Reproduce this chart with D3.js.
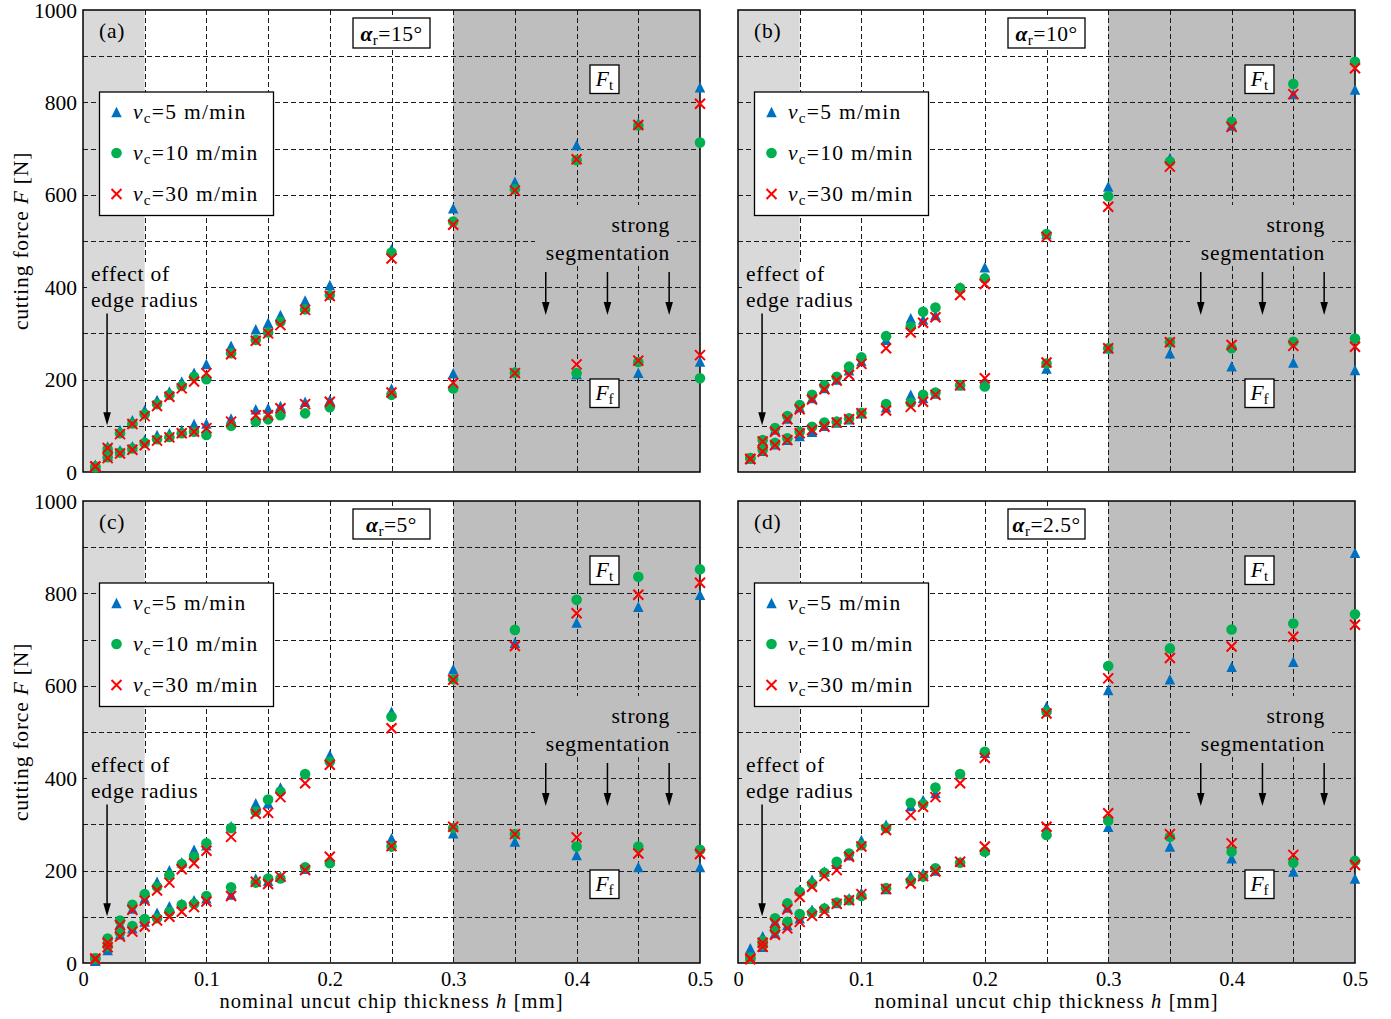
<!DOCTYPE html>
<html><head><meta charset="utf-8">
<script src="https://cdn.jsdelivr.net/npm/d3@7"></script>
<style>body{margin:0;background:#fff}</style>
</head><body>
<svg id="chart" width="1391" height="1019" xmlns="http://www.w3.org/2000/svg"></svg>
<script>
// ---------------- data ----------------
const hValues = [0.01,0.02,0.03,0.04,0.05,0.06,0.07,0.08,0.09,0.10,0.12,0.14,0.15,0.16,0.18,0.20,0.25,0.30,0.35,0.40,0.45,0.50];
const panelLabels = ['(a)','(b)','(c)','(d)'];
const rakeAngles = ['15°','10°','5°','2.5°'];
const speedLabels = ['5','10','30'];
const xTicks = [0,0.1,0.2,0.3,0.4,0.5];
const yTicks = [0,200,400,600,800,1000];
const xGrid = [0.05,0.10,0.15,0.20,0.25,0.30,0.35,0.40,0.45];
const yGrid = [100,200,300,400,500,600,700,800,900];
const segArrowH = [0.375,0.425,0.475];

// panel (a) alpha_r = 15°
const ftA5  = [15,55,91,112,134,156,174,196,215,234,273,309,323,340,371,405,482,571,628,708,755,833];
const ftA10 = [12,50,84,105,125,147,167,186,206,201,257,286,302,325,352,383,475,542,612,675,750,713];
const ftA30 = [12,52,82,104,121,143,163,181,196,214,255,284,300,318,351,381,462,535,609,677,751,797];
const ffA5  = [15,35,47,56,69,80,84,91,104,105,116,136,138,143,152,156,181,214,217,212,215,239];
const ffA10 = [10,32,42,51,63,71,76,84,87,80,100,109,114,123,127,140,167,181,215,214,238,203];
const ffA30 = [12,30,40,48,58,68,75,84,87,95,109,123,123,138,147,152,172,193,214,233,241,253];
// panel (b) alpha_r = 10°
const ftB5  = [30,68,92,116,140,160,182,200,220,240,286,333,330,340,400,443,515,618,679,750,818,828];
const ftB10 = [30,69,95,121,145,167,188,206,228,248,294,315,347,356,398,419,515,597,672,758,840,888];
const ftB30 = [28,66,87,114,136,157,179,198,210,234,268,302,323,335,383,407,509,574,661,747,818,874];
const ffB5  = [30,46,60,70,78,87,100,107,114,127,140,167,160,170,188,195,224,268,257,229,237,221];
const ffB10 = [30,48,63,73,87,98,107,109,116,128,147,150,167,172,188,185,235,268,281,268,282,289];
const ffB30 = [28,44,58,69,84,91,98,107,114,127,133,141,152,167,188,203,237,268,281,275,273,271];
// panel (c) alpha_r = 5°
const ftC5  = [5,46,85,118,140,176,201,218,245,255,296,346,346,380,409,450,544,636,693,737,771,797];
const ftC10 = [10,53,92,126,149,165,190,214,230,259,292,328,354,371,409,436,533,614,721,786,836,852];
const ftC30 = [10,44,82,115,135,157,174,203,216,243,273,323,325,359,389,429,508,613,686,757,797,823];
const ffC5  = [5,28,62,75,90,109,123,128,136,140,148,183,178,187,204,222,270,281,263,234,208,208];
const ffC10 = [10,36,66,80,95,97,111,126,128,145,164,174,183,183,207,216,252,292,279,252,252,245];
const ffC30 = [8,34,57,68,79,92,100,111,121,133,145,176,171,187,201,230,253,295,279,272,237,236];
// panel (d) alpha_r = 2.5°
const ftD5  = [32,58,90,120,158,180,198,215,233,266,299,340,353,368,409,455,555,591,614,641,652,888];
const ftD10 = [12,48,97,129,154,172,195,219,237,255,292,347,344,380,409,457,544,643,681,722,735,755];
const ftD30 = [10,44,86,116,143,165,188,201,230,252,288,320,338,359,389,444,540,616,660,685,706,732];
const ffD5  = [15,35,65,82,97,115,120,130,140,152,160,188,194,200,219,245,285,295,252,227,198,183];
const ffD10 = [10,39,71,89,106,109,118,131,136,145,162,178,187,205,217,241,277,308,273,241,217,221];
const ffD30 = [8,35,61,75,89,102,111,128,136,149,160,172,188,198,219,252,295,324,279,259,234,212];

const panelData = [
  {ft:[ftA5,ftA10,ftA30], ff:[ffA5,ffA10,ffA30]},
  {ft:[ftB5,ftB10,ftB30], ff:[ffB5,ffB10,ffB30]},
  {ft:[ftC5,ftC10,ftC30], ff:[ffC5,ffC10,ffC30]},
  {ft:[ftD5,ftD10,ftD30], ff:[ffD5,ffD10,ffD30]}
];

// ---------------- drawing ----------------
const FONT = '"Liberation Serif","Times New Roman",serif';
const FS = 21.5, LS = 0.8, TFS = 20.5;
const COLORS = ['#0070c0','#00b050','#ff0000'];
const W = 617, H = 462;
const layout = [
  {x:83, y:10, left:true, bottom:false},
  {x:738, y:10, left:false, bottom:false},
  {x:83, y:501, left:true, bottom:true},
  {x:738, y:501, left:false, bottom:true}
];
const svg = d3.select('#chart').attr('font-family', FONT);
const defs = svg.append('defs');

function triPath(s){ return `M0,${-s/2}L${s/2},${s/2}L${-s/2},${s/2}Z`; }
function crossPath(s){ return `M${-s},${-s}L${s},${s}M${-s},${s}L${s},${-s}`; }
function drawMarker(sel, k, cx, cy){
  if (k===0) sel.append('path').attr('d',triPath(10.5)).attr('transform',`translate(${cx},${cy})`).attr('fill',COLORS[0]);
  else if (k===1) sel.append('circle').attr('cx',cx).attr('cy',cy).attr('r',5.3).attr('fill',COLORS[1]);
  else sel.append('path').attr('d',crossPath(5)).attr('transform',`translate(${cx},${cy})`).attr('stroke',COLORS[2]).attr('stroke-width',2).attr('fill','none');
}
function subText(sel, main, sub, rest, opts){
  const t = sel.append('text').attr('x',opts.x).attr('y',opts.y).attr('font-size',FS)
    .attr('text-anchor',opts.anchor||'start').attr('letter-spacing',opts.ls!=null?opts.ls:LS);
  const m = t.append('tspan').text(main).attr('font-style','italic');
  if (opts.bold) m.attr('font-weight','bold');
  t.append('tspan').attr('font-size', FS*0.7).attr('dy',4).text(sub);
  if (rest) t.append('tspan').attr('dy',-4).text(rest);
  return t;
}
function arrow(sel, x, y1, y2){
  const head = 13, hw = 3.8;
  sel.append('line').attr('x1',x).attr('x2',x).attr('y1',y1).attr('y2',y2-head+2)
    .attr('stroke','#000').attr('stroke-width',1.5);
  sel.append('path').attr('d',`M${x},${y2}L${x-hw},${y2-head}L${x+hw},${y2-head}Z`).attr('fill','#000');
}

panelData.forEach((pd, i) => {
  const L = layout[i];
  const x = d3.scaleLinear().domain([0,0.5]).range([L.x, L.x+W]);
  const y = d3.scaleLinear().domain([0,1000]).range([L.y+H, L.y]);
  const g = svg.append('g');

  // shaded regions
  g.append('rect').attr('x',x(0)).attr('y',y(1000)).attr('width',x(0.05)-x(0)).attr('height',H).attr('fill','#d9d9d9');
  g.append('rect').attr('x',x(0.3)).attr('y',y(1000)).attr('width',x(0.5)-x(0.3)).attr('height',H).attr('fill','#bebebe');

  // mask for text areas
  const mid = 'gm'+i;
  const mask = defs.append('mask').attr('id',mid).attr('maskUnits','userSpaceOnUse')
    .attr('x',0).attr('y',0).attr('width',1391).attr('height',1019);
  mask.append('rect').attr('x',0).attr('y',0).attr('width',1391).attr('height',1019).attr('fill','#fff');
  mask.append('rect').attr('x',L.x+4).attr('y',L.y+252).attr('width',117).attr('height',51).attr('fill','#000');
  mask.append('rect').attr('x',L.x+452).attr('y',L.y+195).attr('width',142).attr('height',60).attr('fill','#000');

  const grid = g.append('g').attr('mask',`url(#${mid})`).attr('stroke','#1a1a1a')
    .attr('stroke-width',1).attr('stroke-dasharray','5,3').attr('fill','none');
  grid.selectAll('line.vx').data(xGrid).join('line').attr('class','vx')
    .attr('x1',d=>Math.round(x(d))+0.5).attr('x2',d=>Math.round(x(d))+0.5).attr('y1',y(1000)).attr('y2',y(0));
  grid.selectAll('line.hy').data(yGrid).join('line').attr('class','hy')
    .attr('y1',d=>Math.round(y(d))+0.5).attr('y2',d=>Math.round(y(d))+0.5).attr('x1',x(0)).attr('x2',x(0.5));

  // axes (labels only)
  if (L.left){
    const ax = g.append('g').attr('transform',`translate(${x(0)},0)`)
      .call(d3.axisLeft(y).tickValues(yTicks).tickSize(0).tickPadding(6).tickFormat(d=>String(d)));
    ax.select('.domain').remove();
    ax.selectAll('text').attr('font-family',FONT).attr('font-size',FS).attr('fill','#000').attr('dy','0.33em');
    g.append('text').attr('transform',`translate(28,${(y(0)+y(1000))/2}) rotate(-90)`)
      .attr('text-anchor','middle').attr('font-size',FS).attr('letter-spacing',LS)
      .call(t=>{ t.append('tspan').text('cutting force ');
                 t.append('tspan').attr('font-style','italic').text('F');
                 t.append('tspan').text(' [N]'); });
  }
  if (L.bottom){
    const ax = g.append('g').attr('transform',`translate(0,${y(0)})`)
      .call(d3.axisBottom(x).tickValues(xTicks).tickSize(0).tickPadding(8).tickFormat(d=>String(d)));
    ax.select('.domain').remove();
    ax.selectAll('text').attr('font-family',FONT).attr('font-size',TFS).attr('fill','#000');
    g.append('text').attr('x',x(0.25)).attr('y',1008).attr('text-anchor','middle')
      .attr('font-size',TFS).attr('letter-spacing',1.1)
      .call(t=>{ t.append('tspan').text('nominal uncut chip thickness ');
                 t.append('tspan').attr('font-style','italic').text('h');
                 t.append('tspan').text(' [mm]'); });
  }

  // annotations
  g.append('text').attr('x',L.x+16).attr('y',L.y+28).attr('font-size',FS).attr('letter-spacing',LS).text(panelLabels[i]);
  g.append('text').attr('x',L.x+8).attr('y',L.y+271).attr('font-size',FS).attr('letter-spacing',LS).text('effect of');
  g.append('text').attr('x',L.x+8).attr('y',L.y+297).attr('font-size',FS).attr('letter-spacing',LS).text('edge radius');
  arrow(g, x(0.0195), y(343), y(101));
  g.append('text').attr('x',L.x+587).attr('y',L.y+222).attr('text-anchor','end').attr('font-size',FS).attr('letter-spacing',LS).text('strong');
  g.append('text').attr('x',L.x+587).attr('y',L.y+250).attr('text-anchor','end').attr('font-size',FS).attr('letter-spacing',LS).text('segmentation');
  segArrowH.forEach(hh => arrow(g, x(hh), y(433), y(340)));

  // alpha box
  g.append('rect').attr('x',x(0.25)-38.5).attr('y',L.y+8).attr('width',77).attr('height',30)
    .attr('fill','#fff').attr('stroke','#000').attr('stroke-width',1.3);
  subText(g, 'α', 'r', '='+rakeAngles[i], {x:x(0.25), y:L.y+31, anchor:'middle', bold:true, ls:0.5});

  // Ft / Ff boxes
  [[L.y+55,'t'],[L.y+369,'f']].forEach(([by,s]) => {
    g.append('rect').attr('x',x(0.4226)-14.5).attr('y',by).attr('width',29).attr('height',28.5)
      .attr('fill','#fff').attr('stroke','#000').attr('stroke-width',1.3);
    subText(g, 'F', s, null, {x:x(0.4226), y:by+21, anchor:'middle', ls:0});
  });

  // legend
  const lg = g.append('g');
  lg.append('rect').attr('x',L.x+16.5).attr('y',L.y+82).attr('width',174).attr('height',123.5)
    .attr('fill','#fff').attr('stroke','#000').attr('stroke-width',1.3);
  speedLabels.forEach((s,k) => {
    const cy = L.y+102+k*41;
    drawMarker(lg, k, L.x+33.5, cy);
    subText(lg, 'v', 'c', '='+s+' m/min', {x:L.x+50, y:cy+6.5, ls:1.3});
  });

  // spines
  g.append('rect').attr('x',x(0)).attr('y',y(1000)).attr('width',W).attr('height',H)
    .attr('fill','none').attr('stroke','#000').attr('stroke-width',1.5);

  // data markers: triangles, circles, crosses
  const mk = g.append('g');
  [0,1,2].forEach(k => {
    [pd.ft[k], pd.ff[k]].forEach(arr => {
      arr.forEach((v,j) => drawMarker(mk, k, x(hValues[j]), y(v)));
    });
  });
});
</script>
</body></html>
